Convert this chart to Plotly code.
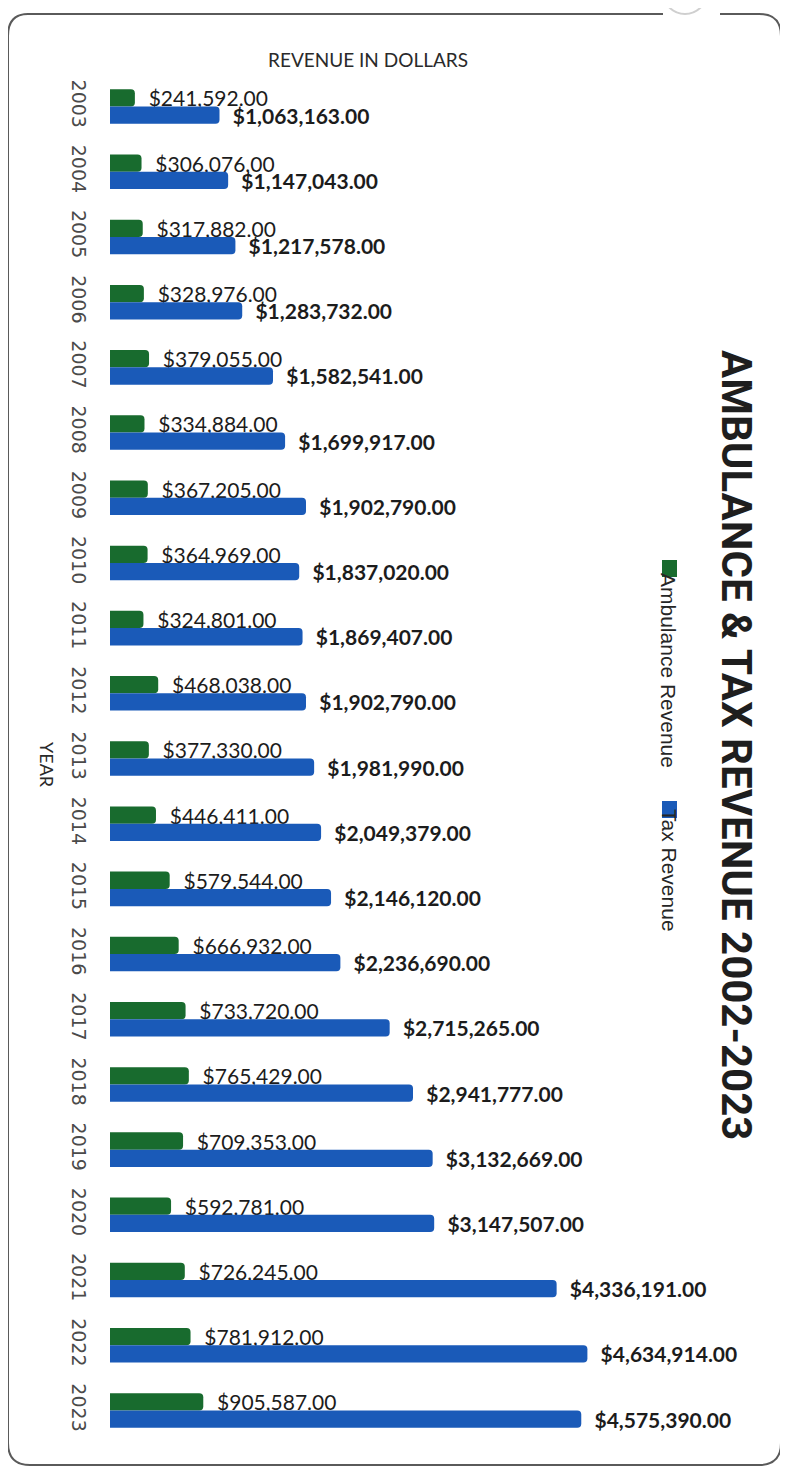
import plotly.graph_objects as go

years = [str(y) for y in range(2003, 2024)]
ambulance_revenue = [241592, 306076, 317882, 328976, 379055, 334884, 367205, 364969,
                     324801, 468038, 377330, 446411, 579544, 666932, 733720, 765429,
                     709353, 592781, 726245, 781912, 905587]
tax_revenue = [1063163, 1147043, 1217578, 1283732, 1582541, 1699917, 1902790, 1837020,
               1869407, 1902790, 1981990, 2049379, 2146120, 2236690, 2715265, 2941777,
               3132669, 3147507, 4336191, 4634914, 4575390]

GREEN = "#186b2e"
BLUE = "#1a5ab8"

# page has an 8px body margin, so the figure is a bit smaller than the window
OFF = 8
W, H = 788 - OFF, 1470 - OFF
# plot area edges in page pixels
L, R, T, B = 110, 625, 74, 1443


def px(x):
    return (x - L) / (R - L)


def py(y):
    return (B - y) / (B - T)


fig = go.Figure()
fig.add_trace(go.Bar(
    y=years, x=ambulance_revenue, orientation='h', name='Ambulance Revenue',
    marker=dict(color=GREEN, cornerradius=4, line=dict(width=0)),
    texttemplate='\u00a0\u00a0$%{x:,.2f}', textposition='outside', constraintext='none',
    textfont=dict(family='Lato', size=21, color='#1c1c1c'), cliponaxis=False
))
fig.add_trace(go.Bar(
    y=years, x=tax_revenue, orientation='h', name='Tax Revenue',
    marker=dict(color=BLUE, cornerradius=4, line=dict(width=0)),
    texttemplate='\u00a0\u00a0$%{x:,.2f}', textposition='outside', constraintext='none',
    textfont=dict(family='Lato', size=21, color='#1c1c1c', weight='bold'), cliponaxis=False
))

fig.update_layout(
    width=W, height=H, barmode='group', bargap=0.47, bargroupgap=0,
    margin=dict(l=L - OFF, r=788 - R, t=T - OFF, b=1470 - B),
    paper_bgcolor='white', plot_bgcolor='white', showlegend=False,
    xaxis=dict(range=[0, 5000000], visible=False),
    yaxis=dict(type='category', autorange='reversed', tickangle=90, showgrid=False,
               showline=False, ticks='', ticklabelstandoff=18,
               tickfont=dict(family='DejaVu Sans', size=19, color='#4a4a4a')),
)

# texts
ann = dict(xref='paper', yref='paper', showarrow=False, xanchor='center', yanchor='middle')
fig.add_annotation(x=px(368), y=py(60), text='REVENUE IN DOLLARS',
                   font=dict(family='Lato', size=19, color='#2a2a2a'), **ann)
fig.add_annotation(x=px(47), y=py(765), textangle=90, text='YEAR',
                   font=dict(family='Lato', size=18, color='#2a2a2a'), **ann)
fig.add_annotation(x=px(737), y=py(745), textangle=90,
                   text='<b>AMBULANCE &amp; TAX REVENUE 2002-2023</b>',
                   font=dict(family='Roboto', size=42, color='#1e1e1e'), **ann)
fig.add_annotation(x=px(669), y=py(670), textangle=90, text='Ambulance Revenue',
                   font=dict(family='Liberation Sans', size=21, color='#262626'), **ann)
fig.add_annotation(x=px(669), y=py(870), textangle=90, text='Tax Revenue',
                   font=dict(family='Liberation Sans', size=21, color='#262626'), **ann)
# legend swatches
fig.add_shape(type='rect', xref='paper', yref='paper', x0=px(662), x1=px(677),
              y0=py(560), y1=py(577), fillcolor=GREEN, line=dict(width=0))
fig.add_shape(type='rect', xref='paper', yref='paper', x0=px(662), x1=px(677),
              y0=py(801), y1=py(818), fillcolor=BLUE, line=dict(width=0))

# rounded frame of the scanned page
r = 22
frame = (f"M {px(663)},{py(14)} L {px(28)},{py(14)} Q {px(8)},{py(14)} {px(8)},{py(14 + r)} "
         f"L {px(8)},{py(1465 - r)} Q {px(8)},{py(1465)} {px(8 + r)},{py(1465)} "
         f"L {px(781 - r)},{py(1465)} Q {px(781)},{py(1465)} {px(781)},{py(1465 - r)} "
         f"L {px(781)},{py(14 + r)} Q {px(781)},{py(14)} {px(781 - r)},{py(14)} L {px(720)},{py(14)}")
fig.add_shape(type='path', path=frame, xref='paper', yref='paper',
              line=dict(color='#5a5a5a', width=2))
fig.add_shape(type='circle', xref='paper', yref='paper',
              x0=px(663), x1=px(707), y0=py(14), y1=py(-30),
              line=dict(color='#cfcfcf', width=2))

fig.write_html("out.html")
